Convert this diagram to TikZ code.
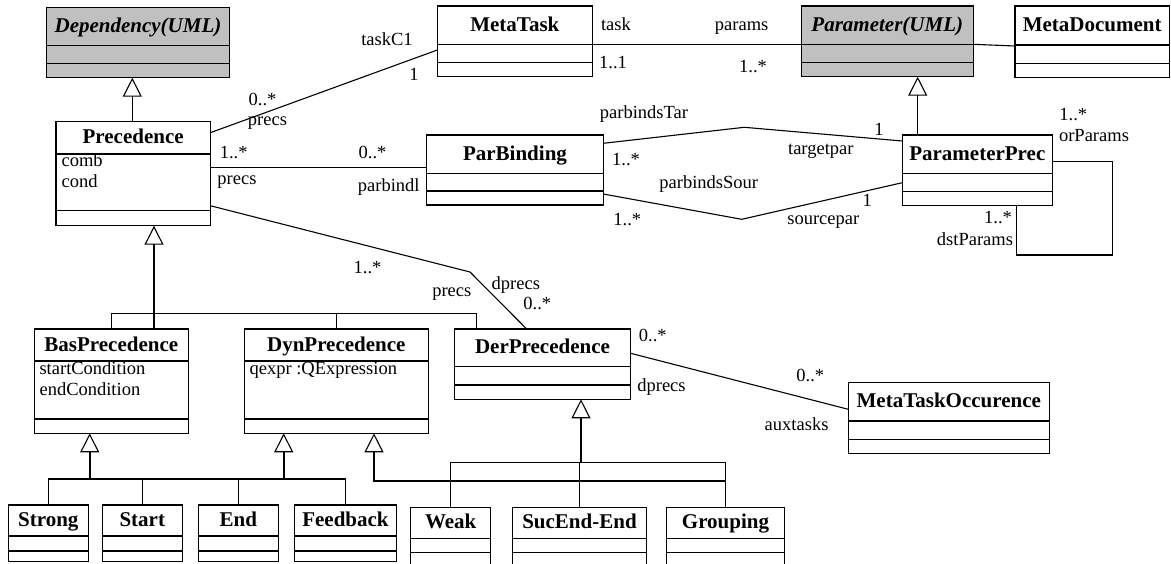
\documentclass[tikz,border=0pt]{standalone}
\usepackage{fontspec}
\setmainfont{Liberation Serif}
\usetikzlibrary{arrows.meta}
\definecolor{umlgray}{RGB}{192,192,192}
\newcommand\umlcls[9]{%
  \node[clsbox,#9,minimum width={#4-#2},minimum height={#5-#3},anchor=north west] (#1) at (#2,#3) {};
  \draw (#2,#6) -- (#4,#6) (#2,#7) -- (#4,#7);
  \node[ttl] (#1-t) at ({(#2+#4)/2},{(#3+#6)/2+6}) {#8};
}
\begin{document}
\begin{tikzpicture}[x=1pt,y=-1pt,line width=1.1pt,
  clsbox/.style={draw, fill=white, rectangle, inner sep=0, outer sep=0},
  abst/.style={fill=umlgray},
  ttl/.style={font=\fontsize{21}{24}\selectfont\bfseries, anchor=base, inner sep=0},
  lbl/.style={font=\fontsize{18.5}{20}\selectfont, anchor=base, inner sep=0},
  attr/.style={lbl, anchor=base west},
  gen/.style={-{Triangle[open,length=19pt,width=19pt,line width=1.1pt]}},
  gent/.style={gen, line width=1.9pt},
  barline/.style={line width=1.9pt}]
\useasboundingbox (0,0) rectangle (1171,563);
\clip (0,0) rectangle (1171,563);

% classes
\umlcls{dep}{46.7}{7.3}{229.3}{77.7}{45.7}{63.3}{\textit{Dependency(UML)}}{abst}
\umlcls{prec}{56}{121.7}{210.3}{225.7}{154}{210.7}{Precedence}{}
\umlcls{mt}{437.3}{6}{592.3}{76.7}{44.3}{62.3}{MetaTask}{}
\umlcls{param}{801.3}{6}{973.3}{76.7}{44.3}{62.3}{\textit{Parameter(UML)}}{abst}
\umlcls{md}{1015}{6}{1169.3}{77.3}{45}{63.3}{MetaDocument}{}
\umlcls{pb}{426.7}{135}{603.3}{205}{173.3}{191}{ParBinding}{}
\umlcls{pp}{902.3}{135}{1052.3}{205.7}{173.3}{191.7}{ParameterPrec}{}
\umlcls{bas}{34.3}{329}{188.3}{433.3}{361}{419}{BasPrecedence}{}
\umlcls{dyn}{244.3}{329}{428.3}{433.3}{361}{419}{DynPrecedence}{}
\umlcls{der}{454.3}{329}{630.7}{399.3}{366.7}{385}{DerPrecedence}{}
\umlcls{mto}{848.3}{382.7}{1049.3}{453.3}{421}{439.3}{MetaTaskOccurence}{}
\umlcls{strong}{8.3}{505}{88.3}{561.7}{536}{551}{Strong}{}
\umlcls{start}{102.3}{505}{182.3}{561.7}{536}{551}{Start}{}
\umlcls{end}{198.3}{505}{278.3}{561.7}{536}{551}{End}{}
\umlcls{fb}{294.3}{505}{396.7}{561.7}{536}{551}{Feedback}{}
\umlcls{weak}{410.7}{507.3}{490.7}{570}{538.3}{552.7}{Weak}{}
\umlcls{suc}{512.3}{507.3}{646.7}{570}{538.3}{552.7}{SucEnd-End}{}
\umlcls{grp}{666.7}{507.3}{784.3}{570}{538.3}{552.7}{Grouping}{}

% attributes
\node[attr] (a1) at (61,166.7) {comb};
\node[attr] (a2) at (61,187.7) {cond};
\node[attr] (a3) at (39,374) {startCondition};
\node[attr] (a4) at (39,395.7) {endCondition};
\node[attr] (a5) at (249,374) {qexpr :QExpression};

% associations
\draw (prec.east |- 0,132.7) -- (mt.west |- 0,50);
\draw (mt.east |- 0,44.3) -- ([xshift=11pt]param.west |- 0,44.3);
\draw (param.east |- 0,44.3) -- (md.west |- 0,46);
\draw (prec.east |- 0,167.3) -- (pb.west |- 0,167.3);
\coordinate (bendT) at (744.3,127.3);
\coordinate (bendS) at (741.7,219.3);
\draw (pb.east |- 0,143.3) -- (bendT) -- (pp.west |- 0,141);
\draw (pb.east |- 0,194) -- (bendS) -- (pp.west |- 0,182.7);
\coordinate (loopA) at (1112.3,161.7);
\coordinate (loopB) at (1016.7,255);
\draw (pp.east |- loopA) -- (loopA) |- (loopB) -- (loopB |- pp.south);
\coordinate (bendD) at (470,272);
\draw (prec.east |- 0,205.7) -- (bendD) -- (der.north -| 526.7,0);
\draw (der.east |- 0,353.3) -- (mto.west |- 0,409.3);

% generalizations (upper)
\draw[gen] (prec.north -| 132.3,0) -- (dep.south -| 132.3,0);
\draw[gen] (pp.north -| 917.7,0) -- (param.south -| 917.7,0);
\coordinate (tb) at (476.7,313.3);
\draw[gen] (bas.north -| 154,0) -- (prec.south -| 154,0);
\draw (bas.north) |- (tb) -- (der.north -| tb);
\draw (dyn.north) -- (dyn.north |- tb);

% generalizations (lower)
\coordinate (j1) at (89.7,479.3);
\coordinate (j2) at (283.7,479.3);
\coordinate (j3) at (374,481);
\coordinate (j4) at (581,462.7);
\draw[barline] (strong.north |- j1) -- (fb.north |- j1);
\foreach \n in {strong,start,end,fb} \draw (\n.north) -- (\n.north |- j1);
\draw[gent] (j1) -- (j1 |- bas.south);
\draw[gent] (j2) -- (j2 |- dyn.south);
\draw (suc.north |- j3) -- (grp.north |- j3);
\draw[gent] (suc.north |- j3) -- (j3) -- (j3 |- dyn.south);
\draw[gent] (j4) -- (j4 |- der.south);
\draw (weak.north) |- (grp.north |- j4) -- (grp.north);
\draw (suc.north) -- (suc.north |- j4);

% labels
\node[lbl] (l1) at (387,45) {taskC1};
\node[lbl] (l2) at (414,80.5) {1};
\node[lbl] (l3) at (262.5,105) {0..*};
\node[lbl] (l4) at (267.5,125) {precs};
\node[lbl] (l5) at (616,30.7) {task};
\node[lbl] (l6) at (741.7,30.7) {params};
\node[lbl] (l7) at (613,68.3) {1..1};
\node[lbl] (l8) at (753,72.3) {1..*};
\node[lbl] (l9) at (233.7,158.3) {1..*};
\node[lbl] (l10) at (372.5,158.3) {0..*};
\node[lbl] (l11) at (237,184.3) {precs};
\node[lbl] (l12) at (388.7,191.7) {parbindl};
\node[lbl] (l13) at (644,118.3) {parbindsTar};
\node[lbl] (l14) at (626,165.7) {1..*};
\node[lbl] (l15) at (708.8,188.3) {parbindsSour};
\node[lbl] (l16) at (627.3,225) {1..*};
\node[lbl] (l17) at (820.8,154) {targetpar};
\node[lbl] (l18) at (879,135.7) {1};
\node[lbl] (l19) at (867.3,206.7) {1};
\node[lbl] (l20) at (823.3,224) {sourcepar};
\node[lbl] (l21) at (1073.3,120.7) {1..*};
\node[lbl] (l22) at (1094,141.7) {orParams};
\node[lbl] (l23) at (998,223.3) {1..*};
\node[lbl] (l24) at (975,245) {dstParams};
\node[lbl] (l25) at (367.5,273.3) {1..*};
\node[lbl] (l26) at (451.8,296.7) {precs};
\node[lbl] (l27) at (515.8,289.3) {dprecs};
\node[lbl] (l28) at (537.3,309.3) {0..*};
\node[lbl] (l29) at (652.8,341) {0..*};
\node[lbl] (l30) at (661.5,391.7) {dprecs};
\node[lbl] (l31) at (810.3,381.7) {0..*};
\node[lbl,anchor=base east] (l32) at (829,430) {auxtasks};
\end{tikzpicture}
\end{document}
